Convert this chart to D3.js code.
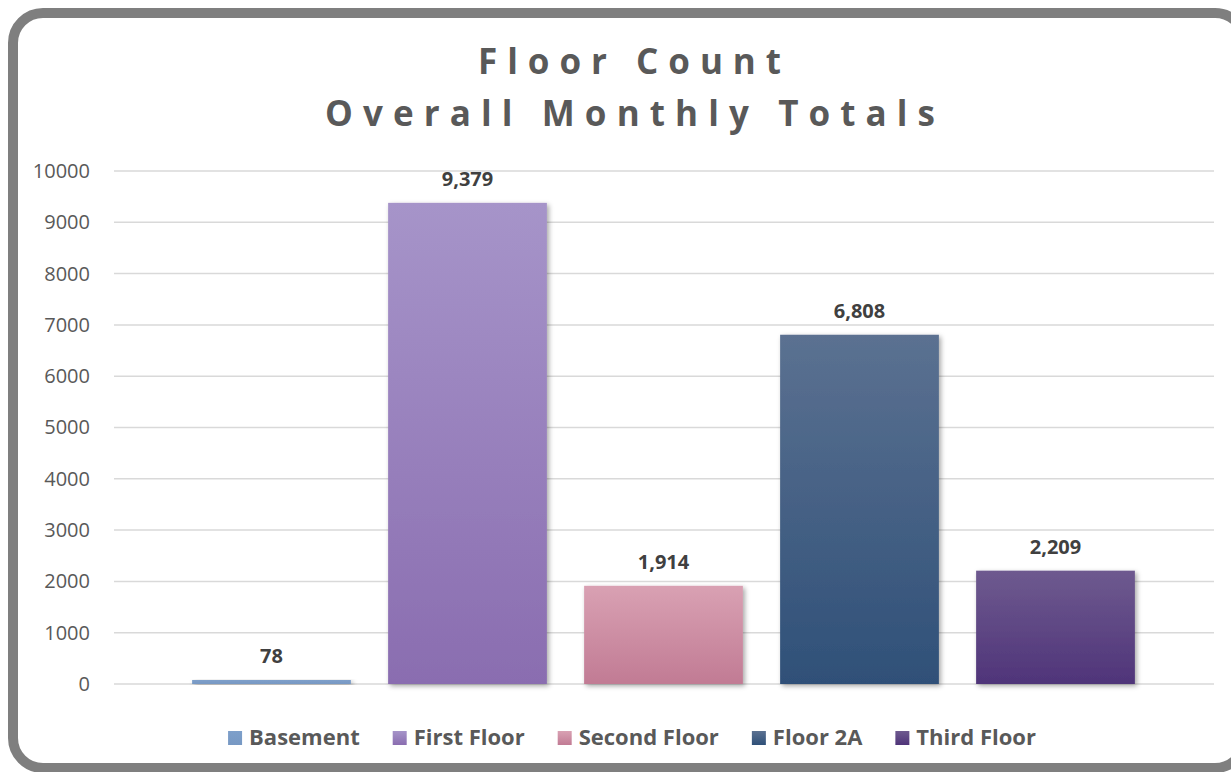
<!DOCTYPE html>
<html>
<head>
<meta charset="utf-8">
<script src="https://cdn.jsdelivr.net/npm/d3@7"></script>
<style>
  html, body { margin: 0; padding: 0; background: #fff; overflow: hidden; }
  svg { display: block; }
</style>
</head>
<body>
<svg id="chart" width="1231" height="772"></svg>
<script>
const categories = ["Basement", "First Floor", "Second Floor", "Floor 2A", "Third Floor"];
const values = [78, 9379, 1914, 6808, 2209];
const yTicks = [0, 1000, 2000, 3000, 4000, 5000, 6000, 7000, 8000, 9000, 10000];
const titleLines = ["Floor Count", "Overall Monthly Totals"];
const colorTop = ["#7d9fca", "#a694c9", "#d9a1b3", "#5b7191", "#6e5a8f"];
const colorBottom = ["#7798c3", "#8a6db0", "#c17b94", "#2f5078", "#4f3479"];

const svg = d3.select("#chart");

// Frame
svg.append("rect")
  .attr("x", 13).attr("y", 13)
  .attr("width", 1232).attr("height", 755)
  .attr("rx", 30).attr("ry", 30)
  .attr("fill", "#fff")
  .attr("stroke", "#7f7f7f").attr("stroke-width", 10);

const defs = svg.append("defs");
categories.forEach((c, i) => {
  const g = defs.append("linearGradient").attr("id", "g" + i)
    .attr("x1", 0).attr("y1", 0).attr("x2", 0).attr("y2", 1);
  g.append("stop").attr("offset", "0%").attr("stop-color", colorTop[i]);
  g.append("stop").attr("offset", "100%").attr("stop-color", colorBottom[i]);
});
const f = defs.append("filter").attr("id", "shadow")
  .attr("x", "-10%").attr("y", "-10%").attr("width", "130%").attr("height", "130%");
f.append("feDropShadow").attr("dx", 2).attr("dy", 2).attr("stdDeviation", 2.5)
  .attr("flood-color", "#000").attr("flood-opacity", 0.35);

// Scales
const y = d3.scaleLinear().domain([0, 10000]).range([684, 171]);
const x = d3.scaleBand().domain(categories).range([173.5, 1153.5])
  .paddingInner(0.19).paddingOuter(0.095);
const gridX0 = 114, gridX1 = 1214;

// Gridlines
svg.append("g").selectAll("line").data(yTicks).join("line")
  .attr("x1", gridX0).attr("x2", gridX1)
  .attr("y1", d => y(d)).attr("y2", d => y(d))
  .attr("stroke", "#d9d9d9").attr("stroke-width", 1.5);

// Y axis labels
const yAxis = d3.axisLeft(y).tickValues(yTicks).tickSize(0).tickPadding(0).tickFormat(d3.format("d"));
const ya = svg.append("g").attr("transform", "translate(90,0)").call(yAxis);
ya.select(".domain").remove();
ya.selectAll("text")
  .attr("font-family", "'Open Sans', sans-serif")
  .attr("font-size", 20).attr("fill", "#595959");

// Bars
svg.append("g").selectAll("rect").data(values).join("rect")
  .attr("x", (d, i) => x(categories[i]))
  .attr("width", x.bandwidth())
  .attr("y", d => y(d))
  .attr("height", d => y(0) - y(d))
  .attr("fill", (d, i) => `url(#g${i})`)
  .attr("filter", "url(#shadow)");

// Data labels
svg.append("g").selectAll("text").data(values).join("text")
  .attr("x", (d, i) => x(categories[i]) + x.bandwidth() / 2)
  .attr("y", d => y(d) - 17)
  .attr("text-anchor", "middle")
  .attr("font-family", "'Open Sans', sans-serif")
  .attr("font-weight", "bold").attr("font-size", 20)
  .attr("fill", "#404040")
  .text(d => d3.format(",")(d));

// Title
const titleSpec = [{ x0: 478, x1: 781, yb: 74 }, { x0: 325, x1: 935, yb: 126 }];
titleLines.forEach((t, i) => {
  const s = titleSpec[i];
  const el = svg.append("text")
    .attr("x", s.x0).attr("y", s.yb)
    .attr("font-family", "'Open Sans', sans-serif")
    .attr("font-weight", "bold").attr("font-size", 35)
    .attr("fill", "#595959")
    .text(t);
  const nat = el.node().getComputedTextLength();
  const ls = (s.x1 - s.x0 - nat) / (t.length - 1);
  el.attr("letter-spacing", ls);
});

// Legend
const lg = svg.append("g");
let cx = 0;
categories.forEach((c, i) => {
  const g = lg.append("g");
  g.append("rect").attr("x", cx).attr("y", -14).attr("width", 14).attr("height", 14)
    .attr("fill", `url(#g${i})`);
  const tx = g.append("text").attr("x", cx + 21).attr("y", 0)
    .attr("font-family", "'Open Sans', sans-serif")
    .attr("font-weight", "bold").attr("font-size", 22)
    .attr("fill", "#595959").text(c);
  const w = tx.node().getComputedTextLength();
  cx += 21 + w + 33;
});
const total = cx - 33;
lg.attr("transform", `translate(${632 - total / 2},745)`);
</script>
</body>
</html>
